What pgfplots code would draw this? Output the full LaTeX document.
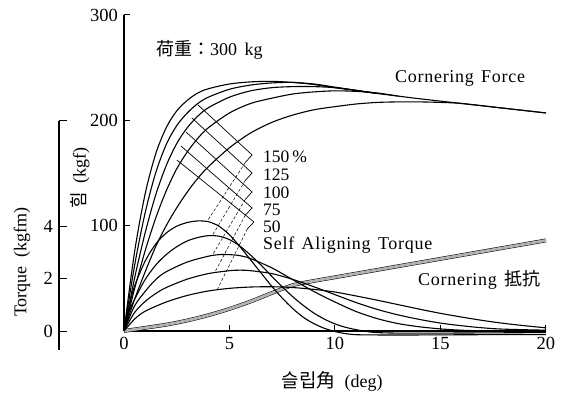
\documentclass[border=0pt]{standalone}
\usepackage{fontspec}
\setmainfont{Liberation Serif}
\newfontfamily\cjk{Noto Sans CJK KR}
\newfontfamily\spaced[LetterSpace=4,WordSpace=1.4]{Liberation Serif}
\usepackage{pgfplots}
\pgfplotsset{compat=1.18}
\begin{document}
\fontsize{18}{21}\selectfont
\begin{tikzpicture}
\useasboundingbox (0,0) rectangle (566pt,394pt);
% ---------- main axis: force (kgf) ----------
\begin{axis}[
  at={(124pt,63pt)}, anchor=south west,
  scale only axis, width=422pt, height=316pt,
  xmin=0, xmax=20, ymin=0, ymax=300,
  axis lines=left, axis line style={-, line width=1.1pt},
  xtick={0,5,10,15,20}, ytick={100,200,300},
  tick align=inside, major tick length=6pt,
  tick style={line width=1pt, black},
  /pgf/number format/assume math mode=true,
  ticklabel style={font=\fontsize{18.5}{21}\selectfont},
  label style={font=\fontsize{18}{21}\selectfont},
  xlabel={{\cjk\fontsize{19}{21}\selectfont 슬립角}\ \ (deg)},
  ylabel={{\cjk 힘}\ \ (kgf)},
  xlabel style={at={(axis description cs:0.493,-0.161)}, anchor=center},
  ylabel style={at={(axis description cs:-0.104,0.484)}, anchor=center},
  clip=false,
  cycle list={{black}},
  every axis plot/.append style={line width=1.1pt, black, no markers},
]
% Cornering force curves (kgf)
\addplot[black, smooth] coordinates {(0,0)(0.5,75)(1,130)(1.5,168)(2,193)(2.5,209)(3,219)(3.5,226)(4,230)(5,234.5)(6,236.5)(7,237)(8,236)(9,234)(10,231)(12,225.5)(13,223)(14,220.5)(16,216)(18,211.5)(20,207)};
\addplot[black, smooth] coordinates {(0,0)(0.5,62)(1,112)(1.5,150)(2,177)(2.5,195)(3,207)(3.5,216)(4,222)(5,229.5)(6,233.5)(7,235.5)(8,236)(9,234.5)(10,231.5)(12,225.5)};
\addplot[black, smooth] coordinates {(0,0)(0.5,50)(1,93)(1.5,129)(2,157)(2.5,178)(3,193)(3.5,204)(4,212)(5,222)(6,228)(7,231)(8,232)(9,232)(10,231)(11,228.5)(12,225.5)};
\addplot[black, smooth] coordinates {(0,0)(0.5,40)(1,76)(1.5,107)(2,133)(2.5,154)(3,170)(3.5,183)(4,193)(5,207)(6,216)(7,221)(8,225)(9,227)(10,228)(11,227.5)(12,226)(13,223)};
\addplot[black, smooth] coordinates {(0,0)(0.5,30)(1,56)(1.5,80)(2,100)(2.5,117)(3,132)(3.5,145)(4,156)(5,174)(6,188)(7,198)(8,205)(9,210)(10,213)(11,215.5)(12,217)(13,217.5)(14,217.5)(15,217)(16,216)(18,211.5)(20,207)};
% Cornering resistance band (kgf)
\addplot[black, smooth, line width=0.5pt, double=gray!60, double distance=2.8pt] coordinates {(0,0)(1,3)(2,6)(3,10)(4,15)(5,21)(6,28)(7,36)(8,43.5)(9,47.5)(10,51)(11,54.5)(12,58)(14,65)(16,72)(18,79)(20,86)};
% mesh lines to the percentage labels
\addplot[black, sharp plot, line width=0.7pt] coordinates {(3.51,214.6)(6.07,167.1)(5.75,160)};
\addplot[black, sharp plot, line width=0.7pt] coordinates {(3.22,202.2)(6.07,150.0)(5.75,143)};
\addplot[black, sharp plot, line width=0.7pt] coordinates {(2.94,188.9)(6.07,132.0)(5.75,125)};
\addplot[black, sharp plot, line width=0.7pt] coordinates {(2.70,175.6)(6.07,116.8)(5.75,110)};
\addplot[black, sharp plot, line width=0.7pt] coordinates {(2.51,162.3)(6.16,103.5)(5.85,97)};
\addplot[black, sharp plot, densely dashed, line width=0.5pt] coordinates {(5.75,160)(3.95,104.4)};
\addplot[black, sharp plot, densely dashed, line width=0.5pt] coordinates {(5.75,143)(4.17,90.2)};
\addplot[black, sharp plot, densely dashed, line width=0.5pt] coordinates {(5.75,125)(4.22,73.1)};
\addplot[black, sharp plot, densely dashed, line width=0.5pt] coordinates {(5.75,110)(4.31,56.0)};
\addplot[black, sharp plot, densely dashed, line width=0.5pt] coordinates {(5.85,97)(4.41,38.9)};
\end{axis}
% ---------- overlay axis: self aligning torque (kgfm) ----------
\begin{axis}[
  at={(124pt,63pt)}, anchor=south west,
  scale only axis, width=422pt, height=316pt,
  xmin=0, xmax=20, ymin=0, ymax=12,
  hide axis, clip=false,
  cycle list={{black}},
  every axis plot/.append style={line width=1.1pt, black, no markers},
]
\addplot[black, smooth] coordinates {(0,0)(0.25,0.95)(0.5,1.7)(1,2.65)(1.5,3.3)(2,3.72)(2.5,3.98)(3,4.12)(3.5,4.18)(4,4.15)(4.5,3.98)(5,3.65)(5.5,3.2)(6,2.7)(6.5,2.2)(7,1.7)(7.5,1.25)(8,0.85)(8.5,0.52)(9,0.28)(9.5,0.1)(10,-0.02)(10.5,-0.1)(11,-0.14)(12,-0.15)(14,-0.15)(17,-0.14)(20,-0.14)};
\addplot[black, smooth] coordinates {(0,0)(0.25,0.75)(0.5,1.2)(1,1.95)(1.5,2.5)(2,2.9)(2.5,3.2)(3,3.42)(3.5,3.55)(4,3.62)(4.5,3.6)(5,3.47)(5.5,3.22)(6,2.88)(6.5,2.5)(7,2.08)(7.5,1.68)(8,1.3)(8.5,0.97)(9,0.68)(9.5,0.45)(10,0.27)(10.5,0.14)(11,0.05)(11.5,-0.02)(12,-0.06)(13,-0.08)(15,-0.08)(20,-0.06)};
\addplot[black, smooth] coordinates {(0,0)(0.5,0.95)(1,1.5)(1.5,1.95)(2,2.25)(3,2.62)(4,2.84)(4.5,2.9)(5,2.9)(5.5,2.86)(6,2.75)(7,2.4)(8,1.95)(9,1.5)(10,1.1)(11,0.74)(12,0.47)(13,0.28)(14,0.16)(15,0.08)(16,0.03)(18,-0.02)(20,-0.03)};
\addplot[black, smooth] coordinates {(0,0)(0.5,0.7)(1,1.12)(1.5,1.42)(2,1.65)(3,1.97)(4,2.18)(5,2.29)(5.5,2.31)(6,2.29)(7,2.18)(8,1.96)(9,1.68)(10,1.38)(11,1.08)(12,0.82)(13,0.61)(14,0.44)(15,0.3)(16,0.2)(17,0.12)(18,0.07)(20,0.03)};
\addplot[black, smooth] coordinates {(0,0)(0.5,0.45)(1,0.75)(2,1.1)(3,1.35)(4,1.52)(5,1.62)(6,1.67)(7,1.68)(8,1.65)(9,1.58)(10,1.48)(11,1.33)(12,1.17)(13,1.0)(14,0.83)(15,0.67)(16,0.53)(17,0.4)(18,0.29)(19,0.2)(20,0.12)};
\end{axis}
% ---------- torque scale ----------
\begin{axis}[
  at={(59pt,44pt)}, anchor=south west,
  scale only axis, width=10pt, height=229pt,
  xmin=0, xmax=1, ymin=-0.72, ymax=8,
  axis y line=left, axis x line=none,
  axis line style={-, line width=1.1pt},
  ytick={0,2,4,8}, yticklabels={0,2,4,{}},
  tick align=inside, major tick length=8pt,
  tick style={line width=1pt, black},
  /pgf/number format/assume math mode=true,
  ticklabel style={font=\fontsize{18.5}{21}\selectfont},
  ylabel={Torque\ \ (kgfm)},
  label style={font=\fontsize{18}{21}\selectfont},
  ylabel style={at={(axis description cs:-3.7,0.384)}, anchor=center},
]
\end{axis}
% ---------- text ----------
\node[anchor=west, font=\fontsize{18}{21}\selectfont] at (150pt,344pt) {{\cjk 荷重：}300\ \,kg};
\node[anchor=west, font=\fontsize{18}{21}\spaced] at (389pt,316pt) {Cornering Force};
\node[anchor=west, font=\fontsize{17.5}{21}\selectfont] at (257pt,237pt) {150\,\%};
\node[anchor=west, font=\fontsize{17.5}{21}\selectfont] at (257pt,219pt) {125};
\node[anchor=west, font=\fontsize{17.5}{21}\selectfont] at (257pt,201pt) {100};
\node[anchor=west, font=\fontsize{17.5}{21}\selectfont] at (257pt,184pt) {75};
\node[anchor=west, font=\fontsize{17.5}{21}\selectfont] at (257pt,167pt) {50};
\node[anchor=west, font=\fontsize{18}{21}\spaced] at (257pt,149pt) {Self Aligning Torque};
\node[anchor=west, font=\fontsize{18}{21}\spaced] at (412pt,114pt) {Cornering {\cjk 抵抗}};
\end{tikzpicture}
\end{document}
